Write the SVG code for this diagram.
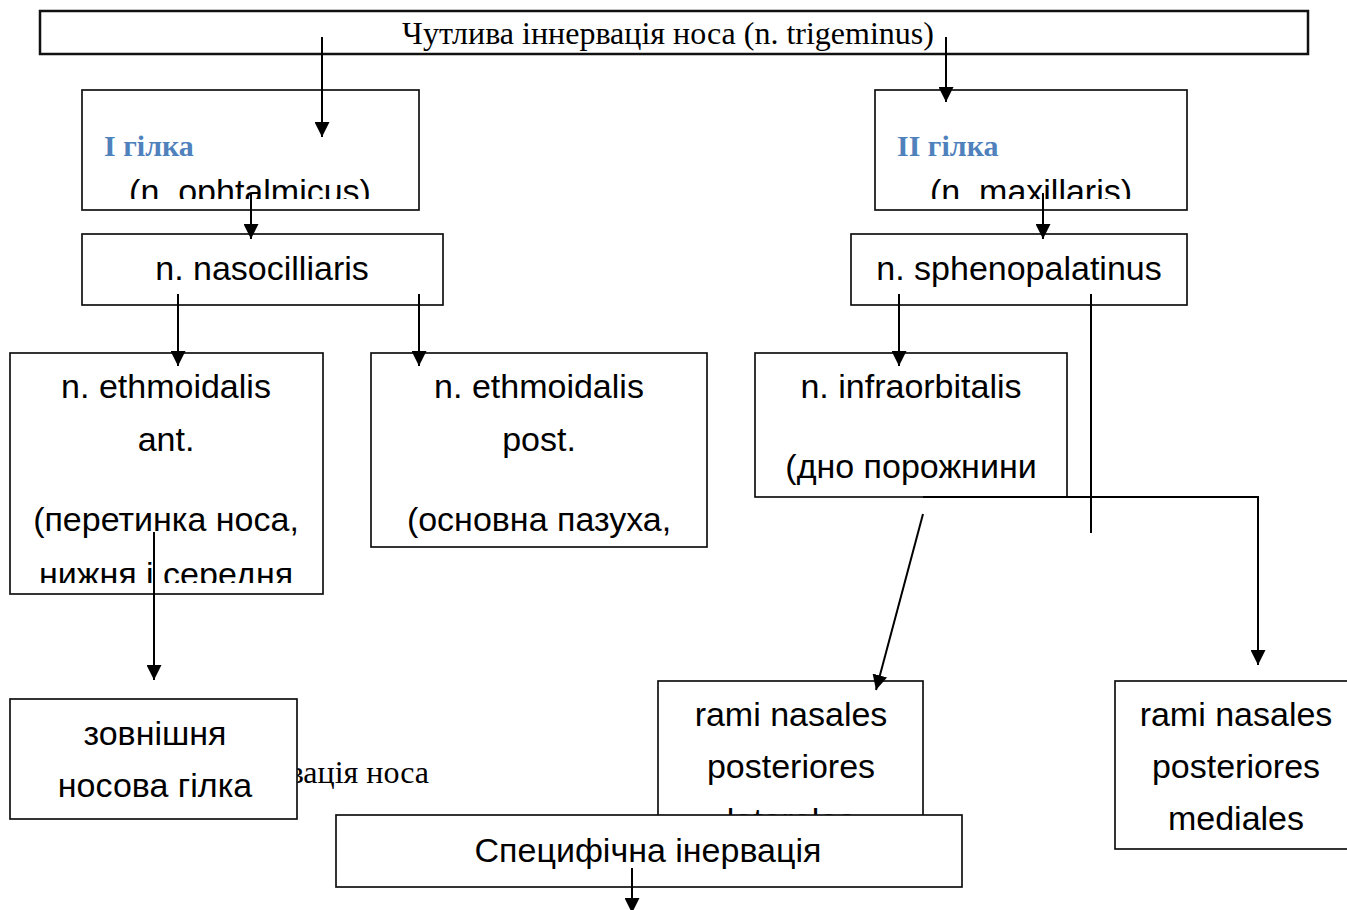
<svg xmlns="http://www.w3.org/2000/svg" width="1347" height="910" viewBox="0 0 1347 910">
<style>
.box{fill:#fff;stroke:#111;stroke-width:1.7}
.sans{font-family:"Liberation Sans",Arial,sans-serif;font-size:34px;fill:#000;text-anchor:middle}
.serif{font-family:"Liberation Serif","Times New Roman",serif;font-size:32px;fill:#000}
.blue{font-family:"Liberation Serif","Times New Roman",serif;font-size:30px;font-weight:bold;fill:#4f81bd}
.con{fill:none;stroke:#000;stroke-width:2}
</style>
<defs>
<marker id="ah" viewBox="0 0 15 15" refX="15" refY="7.5" markerWidth="15" markerHeight="15" markerUnits="userSpaceOnUse" orient="auto">
<path d="M0,0 L15,7.5 L0,15 z" fill="#000"/>
</marker>
<clipPath id="cI"><rect x="82" y="90" width="337" height="109"/></clipPath>
<clipPath id="cII"><rect x="875" y="90" width="312" height="109"/></clipPath>
<clipPath id="cEA"><rect x="10" y="353" width="313" height="230"/></clipPath>
<clipPath id="cEP"><rect x="371" y="353" width="336" height="187"/></clipPath>
<clipPath id="cIO"><rect x="755" y="353" width="312" height="137"/></clipPath>
<clipPath id="cRL"><rect x="658" y="681" width="265" height="134"/></clipPath>
</defs>

<g id="title">
<rect class="box" x="40" y="11" width="1268" height="43" style="stroke-width:2.5"/>
<text class="serif" x="668" y="44" text-anchor="middle">Чутлива іннервація носа (n. trigeminus)</text>
</g>

<g id="branch1">
<rect class="box" x="82" y="90" width="337" height="120"/>
<g clip-path="url(#cI)">
<text class="blue" x="104" y="156">I гілка</text>
<text class="sans" x="250" y="203">(n. ophtalmicus)</text>
</g>
</g>

<g id="branch2">
<rect class="box" x="875" y="90" width="312" height="120"/>
<g clip-path="url(#cII)">
<text class="blue" x="897" y="156">II гілка</text>
<text class="sans" x="1031" y="203">(n. maxillaris)</text>
</g>
</g>

<g id="nasocilliaris">
<rect class="box" x="82" y="234" width="361" height="71"/>
<text class="sans" x="262" y="280">n. nasocilliaris</text>
</g>

<g id="sphenopalatinus">
<rect class="box" x="851" y="234" width="336" height="71"/>
<text class="sans" x="1019" y="280">n. sphenopalatinus</text>
</g>

<g id="ethmoidalis-ant">
<rect class="box" x="10" y="353" width="313" height="241"/>
<g clip-path="url(#cEA)">
<text class="sans" x="166" y="398">n. ethmoidalis</text>
<text class="sans" x="166" y="451">ant.</text>
<text class="sans" x="166" y="531">(перетинка носа,</text>
<text class="sans" x="166" y="586">нижня і середня</text>
</g>
</g>

<g id="ethmoidalis-post">
<rect class="box" x="371" y="353" width="336" height="194"/>
<g clip-path="url(#cEP)">
<text class="sans" x="539" y="398">n. ethmoidalis</text>
<text class="sans" x="539" y="451">post.</text>
<text class="sans" x="539" y="531">(основна пазуха,</text>
</g>
</g>

<g id="infraorbitalis">
<rect class="box" x="755" y="353" width="312" height="144"/>
<g clip-path="url(#cIO)">
<text class="sans" x="911" y="398">n. infraorbitalis</text>
<text class="sans" x="911" y="478">(дно порожнини</text>
</g>
</g>

<text id="hidden-label" class="serif" x="429" y="783" text-anchor="end">вація носа</text>

<g id="external-branch">
<rect class="box" x="10" y="699" width="287" height="120"/>
<text class="sans" x="155" y="745">зовнішня</text>
<text class="sans" x="155" y="797">носова гілка</text>
</g>

<g id="rami-lateral">
<rect class="box" x="658" y="681" width="265" height="170"/>
<g clip-path="url(#cRL)">
<text class="sans" x="791" y="726">rami nasales</text>
<text class="sans" x="791" y="778">posteriores</text>
<text class="sans" x="791" y="832">laterales</text>
</g>
</g>

<g id="rami-medial">
<rect class="box" x="1115" y="681" width="245" height="168"/>
<text class="sans" x="1236" y="726">rami nasales</text>
<text class="sans" x="1236" y="778">posteriores</text>
<text class="sans" x="1236" y="830">mediales</text>
</g>

<g id="specific">
<rect class="box" x="336" y="815" width="626" height="72"/>
<text class="sans" x="648" y="862">Специфічна інервація</text>
</g>

<g id="connectors" class="con">
<path class="con" d="M322,37 V137" marker-end="url(#ah)"/>
<path class="con" d="M946,37 V102" marker-end="url(#ah)"/>
<path class="con" d="M251,193 V239" marker-end="url(#ah)"/>
<path class="con" d="M1043,193 V239" marker-end="url(#ah)"/>
<path class="con" d="M178,294 V366" marker-end="url(#ah)"/>
<path class="con" d="M419,294 V366" marker-end="url(#ah)"/>
<path class="con" d="M899,294 V366" marker-end="url(#ah)"/>
<path class="con" d="M1091,294 V533"/>
<path class="con" d="M154,532 V680" marker-end="url(#ah)"/>
<path class="con" d="M923,497 H1258 V665" marker-end="url(#ah)"/>
<path class="con" d="M923,514 L876,690" marker-end="url(#ah)"/>
<path class="con" d="M632,868 V913" marker-end="url(#ah)"/>
</g>
</svg>
